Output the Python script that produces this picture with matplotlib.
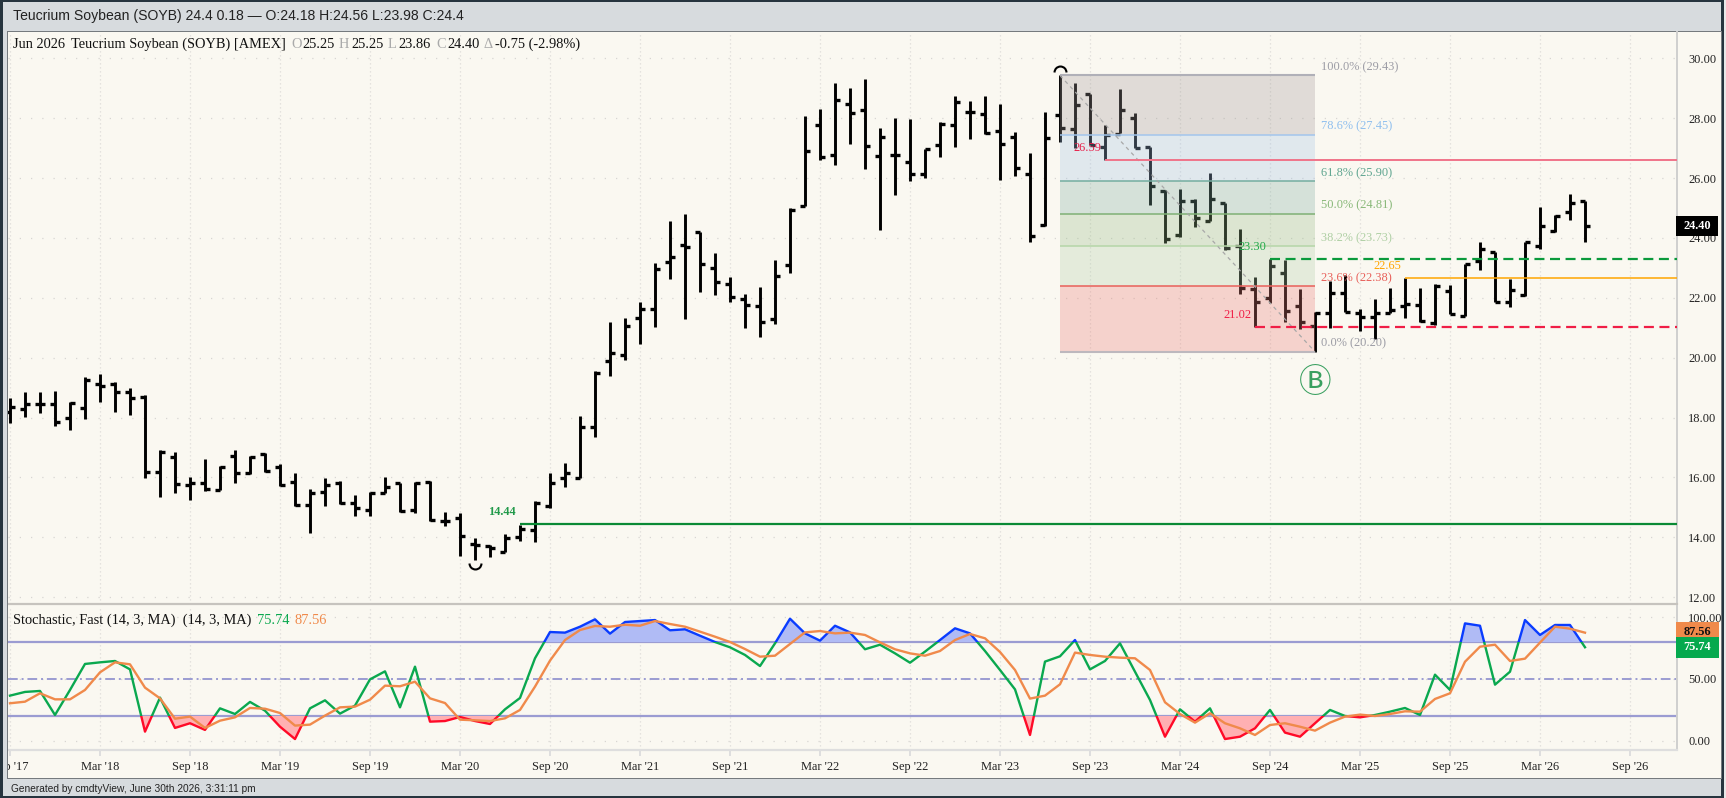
import numpy as np
import matplotlib
matplotlib.use("Agg")
import matplotlib.pyplot as plt
from matplotlib.patches import Rectangle
from matplotlib.path import Path

plt.rcParams["font.family"] = ["Liberation Serif", "DejaVu Sans"]

W, H = 1726, 798
SMALL = 8.9
LARGE = 10.35

# monthly bars, Sep 2017 -> Jun 2026
opens = [18.2, 18.28, 18.45, 18.45, 18.0, 18.31, 19.12, 19.12, 18.87, 18.7,
         16.19, 16.69, 15.75, 15.8, 15.58, 16.73, 16.16, 16.78, 16.34, 15.86,
         15.08, 15.52, 15.83, 15.16, 14.91, 15.49, 15.8, 14.91, 15.86, 14.56,
         14.63, 13.78, 13.72, 13.52, 14.0, 14.24, 15.05, 15.97, 15.99, 17.7,
         19.9, 20.09, 21.34, 21.62, 23.21, 23.76, 24.21, 23.01, 22.45, 21.95,
         21.74, 21.28, 23.1, 25.08, 27.77, 26.77, 28.47, 28.27, 26.75, 26.78,
         26.55, 26.13, 27.1, 27.77, 28.2, 28.14, 27.59, 27.37, 26.13, 24.42,
         28.11, 27.63, 28.81, 27.05, 27.47, 28.02, 27.05, 25.57, 24.1, 25.24,
         24.58, 25.16, 23.73, 22.3, 22.01, 22.84, 21.73, 21.06, 21.48, 22.15,
         21.51, 21.35, 21.48, 21.73, 21.76, 21.15, 22.24, 21.4, 23.24, 23.52,
         21.85, 22.1, 23.74, 24.23, 24.86, 25.25]
highs = [18.64, 18.87, 18.86, 18.9, 18.53, 19.37, 19.45, 19.18, 18.98, 18.75,
         16.92, 16.84, 16.02, 16.6, 16.38, 16.9, 16.72, 16.8, 16.45, 16.14,
         15.6, 15.97, 15.89, 15.41, 15.52, 16.02, 15.83, 15.86, 15.89, 14.86,
         14.8, 13.97, 13.74, 14.1, 14.41, 15.21, 16.16, 16.49, 18.05, 19.56,
         21.2, 21.34, 21.87, 23.18, 24.58, 24.79, 24.21, 23.51, 22.69, 22.13,
         22.35, 23.27, 24.99, 28.08, 28.3, 29.19, 29.0, 29.3, 27.67, 28.02,
         27.97, 26.97, 27.89, 28.74, 28.56, 28.76, 28.47, 27.55, 26.83, 28.21,
         29.43, 29.17, 28.81, 27.77, 28.97, 28.16, 27.05, 25.6, 25.63, 25.3,
         26.18, 25.18, 24.29, 22.69, 23.3, 23.27, 22.3, 21.52, 22.57, 22.76,
         21.63, 21.96, 22.34, 22.65, 22.32, 22.46, 22.43, 23.13, 23.85, 23.54,
         22.62, 23.88, 25.02, 24.77, 25.47, 25.25]
lows = [17.83, 18.01, 18.14, 17.72, 17.59, 17.95, 18.51, 18.2, 18.08, 15.97,
        15.36, 15.47, 15.24, 15.55, 15.58, 15.83, 16.12, 16.19, 15.71, 15.06,
        14.13, 15.05, 15.11, 14.72, 14.72, 15.47, 14.86, 14.8, 14.54, 14.39,
        13.37, 13.24, 13.35, 13.52, 13.89, 13.83, 14.99, 15.69, 15.97, 17.36,
        19.4, 19.92, 20.45, 21.02, 22.62, 21.28, 22.19, 22.11, 21.87, 20.98,
        20.68, 21.12, 22.82, 25.08, 26.6, 26.43, 27.14, 26.3, 24.27, 25.44,
        25.92, 26.02, 26.7, 27.03, 27.32, 27.47, 25.94, 26.07, 23.85, 24.41,
        27.22, 27.0, 27.1, 26.6, 27.5, 26.99, 25.1, 23.82, 24.02, 24.36,
        24.57, 23.6, 22.12, 21.02, 21.82, 21.2, 20.95, 20.2, 20.98, 21.52,
        20.89, 20.62, 21.48, 21.34, 21.2, 21.09, 21.46, 21.39, 22.93, 21.85,
        21.7, 22.07, 23.63, 24.21, 24.6, 23.86]
closes = [18.34, 18.45, 18.45, 17.86, 18.47, 19.25, 19.05, 18.87, 18.64, 16.19,
          16.84, 15.78, 15.83, 15.6, 16.36, 16.16, 16.67, 16.23, 15.75, 15.08,
          15.47, 15.75, 15.13, 14.97, 15.49, 15.67, 14.88, 15.82, 14.58, 14.56,
          14.04, 13.74, 13.65, 13.97, 14.27, 15.13, 15.83, 16.14, 17.7, 19.48,
          20.17, 21.06, 21.62, 22.95, 23.38, 23.71, 23.12, 22.54, 22.02, 21.76,
          21.2, 22.74, 24.94, 26.92, 26.72, 28.61, 28.17, 27.07, 27.39, 26.78,
          26.13, 26.96, 27.8, 28.53, 28.2, 27.52, 27.15, 26.34, 24.07, 27.35,
          27.66, 28.44, 27.1, 27.44, 28.28, 27.02, 25.75, 23.95, 25.24, 24.66,
          25.3, 23.66, 22.32, 21.85, 23.07, 21.56, 21.18, 21.48, 22.17, 21.54,
          21.35, 21.48, 21.6, 21.78, 21.23, 22.4, 21.46, 23.12, 23.62, 21.85,
          22.26, 23.85, 24.41, 24.74, 25.18, 24.4]

stoch_k = [36.5, 39.5, 40.3, 20.8, 41.1, 62.2, 63.5, 64.6, 57.8, 7.3,
           34.9, 10.3, 14.1, 8.7, 26.2, 21.6, 31.4, 24.3, 11.3, 1.3,
           26.2, 32.7, 21.9, 28.4, 49.7, 56.2, 27.0, 60.0, 15.4, 15.9,
           19.2, 15.9, 13.5, 25.4, 34.6, 66.8, 88.1, 87.6, 92.4, 98.4,
           86.8, 96.2, 97.0, 97.8, 89.5, 90.3, 85.1, 80.0, 75.7, 69.5,
           60.5, 78.9, 98.9, 87.0, 81.1, 93.2, 87.8, 74.1, 77.8, 70.8,
           63.2, 72.2, 81.6, 91.1, 87.0, 72.7, 57.3, 41.6, 4.6, 64.1,
           68.4, 81.6, 57.8, 64.6, 78.9, 55.9, 33.0, 3.2, 25.4, 15.4,
           26.2, 1.3, 3.2, 10.0, 24.9, 6.5, 3.2, 14.1, 24.9, 20.0,
           18.9, 20.8, 23.5, 26.5, 20.8, 53.5, 41.1, 95.1, 93.2, 45.4,
           55.9, 97.8, 85.7, 93.8, 93.8, 75.74]
stoch_d = [30.3, 31.6, 38.4, 33.5, 33.5, 41.1, 55.4, 63.5, 61.9, 43.0,
           34.3, 17.8, 19.5, 10.3, 16.2, 18.9, 26.5, 25.9, 22.4, 12.2,
           13.0, 20.3, 27.0, 27.6, 33.2, 44.6, 44.1, 47.8, 34.3, 30.5,
           17.0, 16.5, 15.9, 18.1, 24.9, 43.8, 64.9, 81.6, 89.7, 93.0,
           92.4, 94.0, 93.2, 97.0, 94.6, 92.4, 88.4, 84.3, 80.0, 74.3,
           68.1, 68.9, 78.4, 87.8, 88.9, 87.0, 87.6, 85.7, 79.7, 74.1,
           70.8, 68.9, 72.7, 81.6, 86.5, 83.0, 71.9, 57.3, 34.1, 36.5,
           45.7, 71.4, 69.5, 68.1, 67.3, 66.8, 57.3, 31.1, 21.6, 14.6,
           22.2, 14.1, 10.0, 4.6, 12.7, 14.1, 11.3, 8.1, 14.6, 19.5,
           21.1, 20.0, 21.6, 23.8, 23.5, 33.8, 38.4, 64.0, 76.2, 77.8,
           64.6, 66.5, 79.5, 92.4, 90.8, 87.56]

tick_labels = ["Sep '17", "Mar '18", "Sep '18", "Mar '19", "Sep '19", "Mar '20", "Sep '20",
               "Mar '21", "Sep '21", "Mar '22", "Sep '22", "Mar '23", "Sep '23",
               "Mar '24", "Sep '24", "Mar '25", "Sep '25", "Mar '26", "Sep '26"]

fib_pct = ["100.0%", "78.6%", "61.8%", "50.0%", "38.2%", "23.6%", "0.0%"]
fib_vals = [29.43, 27.45, 25.90, 24.81, 23.73, 22.38, 20.20]
fib_start, fib_end = 70, 87
fib_fill = ["#a49b9b", "#a4c3e5", "#80afa2", "#97bc87", "#b2d0a9", "#ea7d77"]
fib_line = ["#b0b0b8", "#a3c6ec", "#74ada0", "#7fb075", "#b5d6a8", "#e8605a", "#bdb8be"]
fib_text = ["#9c9ca5", "#8fbfee", "#5fa590", "#88b878", "#b0d0a5", "#e8605a", "#9c9ca5"]

# support / resistance lines
sr_vals = [14.44, 26.59, 23.30, 21.02, 22.65]
sr_start = [34, 73, 84, 83, 93]
sr_color = ["#0a8a35", "#f0748a", "#0a9a3c", "#f01e46", "#ffa500"]
sr_text = ["#229a4a", "#e8204a", "#22aa4a", "#f01e46", "#ffa500"]
sr_style = ["-", "-", (0, (4.5, 2.5)), (0, (4.5, 2.5)), "-"]
sr_lw = [1.6, 1.4, 1.6, 1.6, 1.1]


def fx(px):
    return px / W


def fy(py):
    return 1 - py / H


def add_rect(x0, y0, x1, y1, color, z=-5, **kw):
    fig.add_artist(Rectangle((fx(x0), fy(y1)), (x1 - x0) / W, (y1 - y0) / H,
                             transform=fig.transFigure, facecolor=color, edgecolor="none",
                             zorder=z, **kw))


def put(px, py, s, **kw):
    kw.setdefault("fontsize", LARGE)
    kw.setdefault("va", "center")
    kw.setdefault("zorder", 8)
    fig.text(fx(px), fy(py + 1), s, **kw)


fig = plt.figure(figsize=(W / 100, H / 100), dpi=100, facecolor="#26343e")

CREAM = "#faf8f1"
BAND = "#d7dbde"
add_rect(3, 2, 1721, 796, BAND)
add_rect(1724, 0, 1726, 798, "#e8e8e8")
add_rect(7, 31, 1722, 779, "#757a7e")
add_rect(8, 32, 1721, 778, CREAM)

xs = np.arange(len(opens))
x_lim = ((8 - 10) / 15, (1677 - 10) / 15)

ax = fig.add_axes([fx(8), fy(604), (1677 - 8) / W, (604 - 32) / H])
ax2 = fig.add_axes([fx(8), fy(750), (1677 - 8) / W, (750 - 606) / H])
for a in (ax, ax2):
    a.set_facecolor("none")
    a.set_xlim(*x_lim)
    for s in ("left", "top"):
        a.spines[s].set_visible(False)
    a.spines["right"].set_color("#cfcfcf")
    a.spines["right"].set_linewidth(1.4)
    a.yaxis.tick_right()
    a.set_axisbelow(True)

ax.set_ylim(20 + (357.7 - 604) / 29.93, 20 + (357.7 - 32) / 29.93)
ax2.set_ylim(80 - (750 - 642) / 1.233, 80 - (606 - 642) / 1.233)

month_ticks = np.arange(len(tick_labels)) * 6

# price panel
ax.set_yticks(np.arange(12, 31, 2))
ax.set_yticklabels([f"{v:.2f}" for v in np.arange(12, 31, 2)], fontsize=SMALL)
ax.set_xticks(month_ticks)
ax.tick_params(axis="x", length=0, labelbottom=False)
ax.tick_params(axis="y", length=0, pad=8, labelcolor="#222222")
ax.spines["bottom"].set_color("#c6c3be")
ax.spines["bottom"].set_linewidth(1.6)
ax.xaxis.grid(True, color="#dedcd8", lw=0.9, linestyle=(0, (1, 2.2)))
ax.yaxis.grid(True, color="#d8d6d2", lw=0.9, linestyle=(0, (1, 8)))

for i in range(len(fib_fill)):
    ax.fill_between([fib_start, fib_end], fib_vals[i + 1], fib_vals[i], color=fib_fill[i],
                    alpha=0.3, lw=0, zorder=3)
for val, pct, lc, tc in zip(fib_vals, fib_pct, fib_line, fib_text):
    lw = 1.5 if pct in ("100.0%", "0.0%") else 1.1
    ax.hlines(val, fib_start, fib_end, color=lc, lw=lw, zorder=3)
    ax.annotate(f"{pct} ({val:.2f})", (fib_end, val), xytext=(6, 8), textcoords="offset pixels",
                fontsize=SMALL, color=tc, va="center", zorder=5)
ax.plot([fib_start, fib_end], [fib_vals[0], fib_vals[-1]], color="#a8a8a8", lw=0.9,
        linestyle=(0, (3, 3)), zorder=3)

ax.vlines(xs, lows, highs, color="#000000", lw=2.1, zorder=2, capstyle="butt")
ax.hlines(opens, xs - 0.36, xs, color="#000000", lw=2.4, zorder=2)
ax.hlines(closes, xs, xs + 0.36, color="#000000", lw=2.4, zorder=2)

for val, st, c, tc, ls, lw in zip(sr_vals, sr_start, sr_color, sr_text, sr_style, sr_lw):
    ax.hlines(val, st, x_lim[1], color=c, linestyle=ls, lw=lw, zorder=4)
    ax.annotate(f"{val:.2f}", (st, val), xytext=(-18, 12), textcoords="offset pixels", fontsize=SMALL,
                fontweight="bold" if val == 14.44 else "normal", color=tc, ha="center", va="center",
                zorder=5)

# swing high / low markers
ax.plot([70], [29.56], marker=Path.arc(0, 180), ms=8.6, mfc="none", mec="#000000", mew=1.5, ls="none", zorder=4)
ax.plot([31], [13.14], marker=Path.arc(180, 360), ms=8.6, mfc="none", mec="#000000", mew=1.5, ls="none", zorder=4)
ax.text(87, 19.15, "\u24b7", family=["Noto Sans CJK JP", "DejaVu Sans"], fontsize=23.5, color="#3aa060",
        ha="center", va="center", zorder=5)

# stochastic panel
k = np.array(stoch_k)
d = np.array(stoch_d)
ax2.set_yticks([0, 50, 100])
ax2.set_yticklabels(["0.00", "50.00", "100.00"], fontsize=SMALL)
ax2.set_xticks(month_ticks)
ax2.set_xticklabels(tick_labels, fontsize=SMALL)
ax2.tick_params(axis="y", length=0, pad=8, labelcolor="#222222")
ax2.tick_params(axis="x", length=4, width=1.3, color="#dcdcdc", pad=4, labelcolor="#222222")
ax2.spines["bottom"].set_color("#dedede")
ax2.spines["bottom"].set_linewidth(1.6)
ax2.xaxis.grid(True, color="#dedcd8", lw=0.9, linestyle=(0, (1, 2.2)))
ax2.yaxis.grid(True, color="#d8d6d2", lw=0.9, linestyle=(0, (1, 8)))

ax2.axhline(80, color="#9b9cd2", lw=1.6, zorder=1.5)
ax2.axhline(20, color="#9b9cd2", lw=1.6, zorder=1.5)
ax2.axhline(50, color="#9b9cd2", lw=1.4, linestyle=(0, (5, 2, 1, 2)), zorder=1.5)

ax2.fill_between(xs, k, 80, where=k >= 80, interpolate=True, color="#b0bbf5", lw=0, zorder=2)
ax2.fill_between(xs, k, 20, where=k <= 20, interpolate=True, color="#ffb0b2", lw=0, zorder=2)

for lo, hi, col in [(20, 80, "#0aa84f"), (80, 120, "#0a3cff"), (-20, 20, "#ff0a28")]:
    line, = ax2.plot(xs, k, color=col, lw=1.7, zorder=3)
    line.set_clip_path(Rectangle((x_lim[0], lo), x_lim[1] - x_lim[0], hi - lo, transform=ax2.transData))
ax2.plot(xs, d, color="#f08a4b", lw=1.7, zorder=4)

# top band, legends, footer
add_rect(3, 32, 7.5, 778, BAND, z=5)
add_rect(7, 32, 8, 778, "#757a7e", z=5)
add_rect(0, 0, 3, 798, "#26343e", z=5)

put(13, 15, "Teucrium Soybean (SOYB) 24.4 0.18 \u2014 O:24.18 H:24.56 L:23.98 C:24.4",
    family="Liberation Sans", fontsize=10.07, color="#222222")
put(13, 43, "Jun 2026", color="#111111")
put(70.5, 43, "Teucrium Soybean (SOYB) [AMEX]", color="#111111")
for px_l, lab, px_v, val in [(291, "O", 302.5, "25.25"), (339, "H", 351, "25.25"),
                             (388, "L", 398, "23.86"), (436, "C", 447, "24.40"),
                             (483, "\u0394", 495, "-0.75 (-2.98%)")]:
    put(px_l, 43, lab, color="#aaaaaa")
    put(px_v, 43, val, color="#111111")

put(13, 619, "Stochastic, Fast (14, 3, MA)  (14, 3, MA)", color="#111111")
put(257, 619, "75.74", color="#0aa84f")
put(294.5, 619, "87.56", color="#f08a4b")

put(11, 788, "Generated by cmdtyView, June 30th 2026, 3:31:11 pm", family="Liberation Sans",
    fontsize=7.25, color="#222222")

# last value tags
add_rect(1676, 215.5, 1718, 236, "#000000", z=6)
put(1697, 225, "24.40", color="#ffffff", fontweight="bold", ha="center", fontsize=SMALL)
add_rect(1676, 622, 1719, 637, "#f08a4b", z=6)
put(1697.5, 631, "87.56", color="#111111", fontweight="bold", ha="center", fontsize=SMALL)
add_rect(1676, 637, 1719, 658, "#05a94e", z=6)
put(1697.5, 646, "75.74", color="#ffffff", fontweight="bold", ha="center", fontsize=SMALL)

fig.savefig("out.png", dpi=100, facecolor=fig.get_facecolor())
